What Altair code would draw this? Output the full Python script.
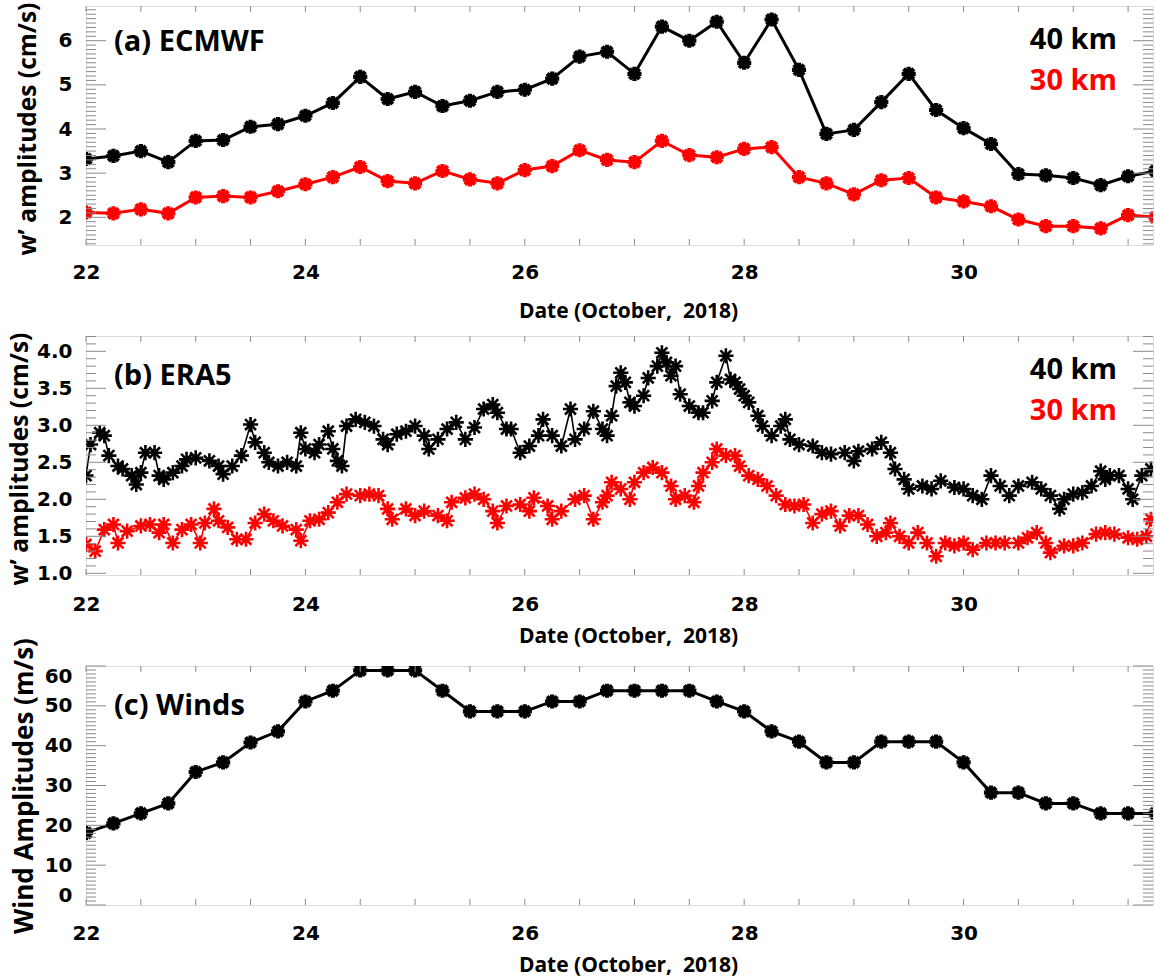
import altair as alt
import pandas as pd

# ---------------- data ----------------
# (a) ECMWF, 6-hourly from 22 Oct 00 UT (hours since 22 Oct 00 UT)
ec_hours = [0, 6, 12, 18, 24, 30, 36, 42, 48, 54, 60, 66, 72, 78, 84, 90, 96, 102, 108, 114,
            120, 126, 132, 138, 144, 150, 156, 162, 168, 174, 180, 186, 192, 198, 204, 210, 216, 222, 228, 234]
ec_40km = [3.32, 3.39, 3.50, 3.25, 3.73, 3.75, 4.05, 4.11, 4.30, 4.59, 5.18, 4.68, 4.84, 4.52, 4.64, 4.84,
           4.89, 5.14, 5.64, 5.75, 5.25, 6.32, 6.00, 6.43, 5.50, 6.48, 5.34, 3.89, 3.98, 4.61, 5.25, 4.43,
           4.02, 3.66, 2.98, 2.95, 2.89, 2.73, 2.93, 3.05]
ec_30km = [2.11, 2.09, 2.18, 2.09, 2.45, 2.48, 2.45, 2.59, 2.75, 2.91, 3.14, 2.82, 2.77, 3.05, 2.86, 2.77,
           3.07, 3.16, 3.52, 3.30, 3.25, 3.73, 3.41, 3.36, 3.55, 3.59, 2.91, 2.77, 2.52, 2.84, 2.89, 2.45,
           2.36, 2.25, 1.95, 1.80, 1.80, 1.75, 2.05, 2.00]

# (b) ERA5 (hours since 22 Oct 00 UT)
era_40_hours = [0, 1, 3, 4, 5, 7, 8, 10, 11, 12, 13, 15, 16, 17, 19, 21, 22, 24, 27, 29, 30, 32, 34, 36, 37,
                39, 40, 42, 44, 46, 47, 48, 50, 51, 53, 54, 55, 56, 57, 59, 61, 63, 65, 66, 68, 70, 72, 74,
                75, 77, 79, 81, 83, 85, 87, 89, 90, 92, 93, 95, 97, 99, 100, 102, 104, 106, 107, 109, 111,
                113, 114, 115, 116, 117, 118, 119, 120, 122, 123, 125, 126, 127, 128, 129, 130, 132, 134,
                135, 137, 138, 140, 141, 142, 143, 144, 145, 147, 148, 150, 152, 153, 154, 156, 159, 161,
                163, 166, 168, 169, 172, 174, 176, 177, 179, 180, 183, 185, 187, 190, 192, 194, 196, 198,
                200, 202, 204, 207, 209, 211, 213, 214, 216, 218, 220, 222, 223, 224, 226, 228, 229, 231, 233]
era_40km = [2.32, 2.74, 2.90, 2.86, 2.59, 2.45, 2.41, 2.32, 2.20, 2.36, 2.63, 2.63, 2.32, 2.27, 2.36, 2.45,
            2.54, 2.56, 2.52, 2.45, 2.34, 2.45, 2.59, 3.01, 2.77, 2.63, 2.50, 2.45, 2.50, 2.45, 2.90, 2.68,
            2.63, 2.74, 2.92, 2.68, 2.52, 2.45, 2.99, 3.08, 3.04, 2.99, 2.81, 2.74, 2.88, 2.92, 2.99, 2.86,
            2.68, 2.81, 2.95, 3.04, 2.81, 2.97, 3.22, 3.28, 3.17, 2.95, 2.95, 2.63, 2.72, 2.86, 3.08, 2.86,
            2.72, 3.22, 2.81, 2.95, 3.19, 2.95, 2.86, 3.13, 3.53, 3.71, 3.58, 3.31, 3.26, 3.40, 3.64, 3.80,
            3.98, 3.85, 3.67, 3.80, 3.42, 3.26, 3.17, 3.17, 3.33, 3.58, 3.94, 3.62, 3.58, 3.49, 3.40, 3.31,
            3.13, 2.99, 2.86, 2.99, 3.08, 2.81, 2.74, 2.72, 2.63, 2.61, 2.63, 2.52, 2.65, 2.68, 2.77, 2.63,
            2.41, 2.27, 2.14, 2.18, 2.14, 2.25, 2.16, 2.14, 2.05, 2.00, 2.32, 2.18, 2.05, 2.18, 2.23, 2.14,
            2.05, 1.87, 2.00, 2.07, 2.09, 2.18, 2.38, 2.27, 2.32, 2.32, 2.14, 2.00, 2.32, 2.41]
era_30_hours = [0, 2, 4, 6, 7, 9, 12, 14, 16, 17, 19, 21, 23, 25, 26, 28, 29, 31, 33, 35, 37, 39, 41, 43,
                46, 47, 49, 51, 53, 55, 57, 60, 62, 64, 66, 67, 70, 72, 74, 77, 79, 80, 83, 85, 87, 89, 90,
                92, 95, 97, 98, 101, 102, 104, 107, 109, 111, 113, 114, 115, 117, 119, 120, 122, 124, 126,
                128, 129, 131, 133, 134, 135, 137, 138, 140, 142, 143, 145, 147, 149, 151, 153, 155, 157,
                159, 161, 163, 165, 167, 169, 171, 173, 175, 176, 178, 180, 182, 184, 186, 188, 190, 192,
                194, 197, 199, 201, 204, 206, 208, 210, 211, 214, 216, 218, 221, 223, 225, 228, 230, 232, 233]
era_30km = [1.39, 1.30, 1.59, 1.66, 1.41, 1.57, 1.64, 1.66, 1.55, 1.66, 1.41, 1.59, 1.66, 1.41, 1.68, 1.87,
            1.71, 1.62, 1.46, 1.46, 1.68, 1.80, 1.71, 1.64, 1.59, 1.44, 1.71, 1.73, 1.82, 1.96, 2.07, 2.05,
            2.07, 2.05, 1.87, 1.73, 1.87, 1.78, 1.84, 1.78, 1.71, 1.96, 2.02, 2.07, 2.00, 1.84, 1.68, 1.91,
            1.93, 1.84, 2.02, 1.91, 1.73, 1.84, 2.00, 2.05, 1.73, 1.96, 2.05, 2.23, 2.14, 2.00, 2.23, 2.36,
            2.43, 2.36, 2.18, 2.00, 2.05, 1.96, 2.18, 2.36, 2.50, 2.68, 2.59, 2.59, 2.45, 2.32, 2.27, 2.18,
            2.05, 1.93, 1.91, 1.93, 1.68, 1.80, 1.84, 1.64, 1.78, 1.78, 1.66, 1.50, 1.55, 1.68, 1.50, 1.41,
            1.55, 1.41, 1.23, 1.41, 1.37, 1.41, 1.32, 1.41, 1.41, 1.41, 1.41, 1.48, 1.55, 1.41, 1.28, 1.37,
            1.37, 1.41, 1.53, 1.55, 1.53, 1.48, 1.46, 1.50, 1.73]

# (c) Winds, 6-hourly
wind_amp = [18.1, 20.5, 23.0, 25.5, 33.4, 35.8, 40.8, 43.6, 51.1, 53.8, 58.9, 58.9, 58.9, 53.8, 48.6, 48.6,
            48.6, 51.1, 51.1, 53.8, 53.8, 53.8, 53.8, 51.1, 48.6, 43.6, 41.0, 35.8, 35.8, 41.0, 41.0, 41.0,
            35.8, 28.2, 28.2, 25.5, 25.5, 23.0, 23.0, 23.0]

# axis ticks / labels
x_labels = [22, 24, 26, 28, 30]
x_ticks = [22.0, 22.5, 23.0, 23.5, 24.0, 24.5, 25.0, 25.5, 26.0, 26.5, 27.0, 27.5, 28.0, 28.5,
           29.0, 29.5, 30.0, 30.5, 31.0, 31.5]
a_major = [2, 3, 4, 5, 6]
b_major = [1.0, 1.5, 2.0, 2.5, 3.0, 3.5, 4.0]
c_major = [0, 10, 20, 30, 40, 50, 60]

# ---------------- style ----------------
W, H = 1067, 239
XDOM = [22, 31.727]
NUMFONT = "DejaVu Sans"
TXTFONT = "Open Sans"
FRAME = "#6e6e6e"
TICK = "#8a8a8a"
ASTER = "M-1,0L1,0M0,-1L0,1M-0.72,-0.72L0.72,0.72M-0.72,0.72L0.72,-0.72"
SER_DOM = ["40 km", "30 km"]
SER_RNG = ["#000000", "#ff0000"]


def to_day(h):
    return [22 + v / 24.0 for v in h]


def minor_ticks(lo, hi, step, majors):
    out = []
    n = int(round((hi - lo) / step))
    for i in range(n + 1):
        v = round(lo + i * step, 4)
        if all(abs(v - m) > 1e-6 for m in majors):
            out.append(v)
    return out


def panel(df, ydom, ymaj, ymin, yfmt, yflush, ytitle, ytitle_x, ytitle_size, ytitle_dy, xtitle_y,
          xlabel_pad, texts, msize, mstroke, lwidth):
    xs = alt.Scale(domain=XDOM, nice=False, zero=False)
    ys = alt.Scale(domain=ydom, nice=False, zero=False)
    xaxis = alt.Axis(values=x_labels, format="d", ticks=False, grid=False, domain=False,
                     labelFont=NUMFONT, labelFontSize=20, labelFontWeight="bold", labelColor="black",
                     labelPadding=xlabel_pad, labelFlush=False, labelOverlap=False,
                     title="Date (October, \u00a02018)", titleFont=TXTFONT, titleFontSize=21,
                     titleFontWeight="bold", titleColor="black", titleX=542, titleY=xtitle_y,
                     titleBaseline="middle", titleAlign="center")
    yaxis = alt.Axis(values=ymaj, format=yfmt, ticks=False, grid=False, domain=False,
                     labelFont=NUMFONT, labelFontSize=20, labelFontWeight="bold", labelColor="black",
                     labelPadding=14, labelOverlap=False, labelFlush=yflush,
                     title=ytitle, titleFont=TXTFONT, titleFontSize=ytitle_size, titleFontWeight="bold",
                     titleColor="black", titleX=ytitle_x, titleY=H / 2 + ytitle_dy, titleAngle=-90,
                     titleBaseline="middle", titleAlign="center")
    X = lambda f: alt.X(f, scale=xs, axis=xaxis)
    Y = lambda f: alt.Y(f, scale=ys, axis=yaxis)
    color = alt.Color("series:N", scale=alt.Scale(domain=SER_DOM, range=SER_RNG), legend=None)
    base = alt.Chart(df)
    lines = base.mark_line(strokeWidth=lwidth, clip=True).encode(
        x=X("day:Q"), y=Y("val:Q"), color=color)
    pts = base.mark_point(shape=ASTER, filled=False, size=msize, strokeWidth=mstroke,
                          opacity=1, clip=True).encode(x=X("day:Q"), y=Y("val:Q"), color=color)

    ymaj_df = pd.DataFrame({"day": 0.0, "val": ymaj})
    ymin_df = pd.DataFrame({"day": 0.0, "val": ymin})
    xt_df = pd.DataFrame({"day": x_ticks, "val": 0.0})
    layers = [lines, pts]
    for d, ln in ((ymaj_df, 20), (ymin_df, 10)):
        layers.append(alt.Chart(d).mark_rule(color=TICK, strokeWidth=1).encode(
            y=Y("val:Q"), x=alt.value(0), x2=alt.value(ln)))
        layers.append(alt.Chart(d).mark_rule(color=TICK, strokeWidth=1).encode(
            y=Y("val:Q"), x=alt.value(W), x2=alt.value(W - ln)))
    layers.append(alt.Chart(xt_df).mark_rule(color=TICK, strokeWidth=1).encode(
        x=X("day:Q"), y=alt.value(H), y2=alt.value(H - 6)))
    layers.append(alt.Chart(xt_df).mark_rule(color=TICK, strokeWidth=1).encode(
        x=X("day:Q"), y=alt.value(0), y2=alt.value(6)))
    for (t, px, py, al, col) in texts:
        layers.append(alt.Chart(pd.DataFrame({"t": [t]})).mark_text(
            align=al, baseline="middle", font=TXTFONT, fontSize=29, fontWeight="bold",
            color=col).encode(x=alt.value(px), y=alt.value(py), text="t:N"))
    return alt.layer(*layers).properties(width=W, height=H)


# dataframes
df_a = pd.concat([
    pd.DataFrame({"day": to_day(ec_hours), "val": ec_40km, "series": "40 km"}),
    pd.DataFrame({"day": to_day(ec_hours), "val": ec_30km, "series": "30 km"}),
])
df_b = pd.concat([
    pd.DataFrame({"day": to_day(era_40_hours), "val": era_40km, "series": "40 km"}),
    pd.DataFrame({"day": to_day(era_30_hours), "val": era_30km, "series": "30 km"}),
])
df_c = pd.DataFrame({"day": to_day(ec_hours), "val": wind_amp, "series": "40 km"})

pa = panel(df_a, [1.373, 6.786], a_major, minor_ticks(1.4, 6.7, 0.1, a_major), "d", False,
           "w\u2019 amplitudes (cm/s)", -58, 24.5, 3, 66, 17,
           [("(a) ECMWF", 28, 36, "left", "black"),
            ("40 km", 1031, 34, "right", "black"),
            ("30 km", 1031, 75, "right", "#ff0000")],
           200, 4.2, 3)
pb = panel(df_b, [0.977, 4.207], b_major, minor_ticks(1.0, 4.2, 0.1, b_major), ".1f", False,
           "w\u2019 amplitudes (cm/s)", -66, 24.5, 3, 61, 19,
           [("(b) ERA5", 28, 40, "left", "black"),
            ("40 km", 1031, 34, "right", "black"),
            ("30 km", 1031, 75, "right", "#ff0000")],
           230, 2.6, 1.6)
pc = panel(df_c, [0, 60], c_major, minor_ticks(0, 59, 1, c_major), "d", True,
           "Wind Amplitudes (m/s)", -62, 26, 0, 60, 18,
           [("(c) Winds", 28, 40, "left", "black")],
           200, 4.2, 3)

chart = alt.vconcat(pa, pb, pc, spacing=91, bounds="flush").properties(
    padding={"left": 6, "top": 1, "right": 0, "bottom": 0}
).configure_view(stroke=FRAME, strokeWidth=1).configure(background="white")

chart.save("out.html", embed_options={"renderer": "svg", "actions": False})
